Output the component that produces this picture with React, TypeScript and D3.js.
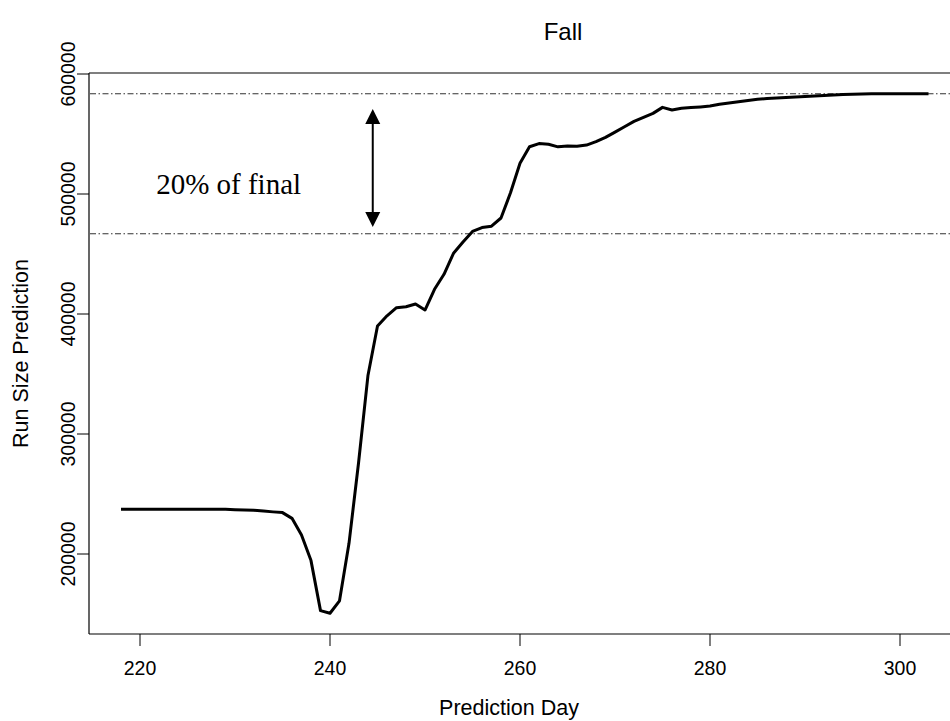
import React from "react";
import * as d3 from "d3";

// Daily run-size predictions for the fall run
const days: number[] = d3.range(218, 304);
const predictions: number[] = [
  237300, 237300, 237300, 237300, 237300, 237300, 237300, 237300, 237300, 237300,
  237300, 237200, 236900, 236700, 236400, 235800, 235100, 234500, 229700, 215800,
  194500, 152800, 150600, 161000, 208900, 275600, 349000, 390000, 398500, 405300,
  406100, 408300, 403300, 420600, 433100, 450600, 460000, 468800, 472000, 473200,
  480000, 501000, 525600, 539400, 542000, 541400, 539300, 540000, 539700, 540800,
  543600, 547200, 551600, 556100, 560500, 563900, 567200, 572200, 570000, 571400,
  572000, 572600, 573300, 574800, 575800, 576900, 577900, 578900, 579600, 580100,
  580500, 580900, 581300, 581700, 582100, 582600, 583000, 583200, 583400, 583500,
  583600, 583600, 583600, 583600, 583600, 583600,
];

const xTicks: number[] = [220, 240, 260, 280, 300];
const yTicks: number[] = [200000, 300000, 400000, 500000, 600000];

// Annotation: band between the final prediction and 80% of it
const bandFraction = 0.8;
const arrowDay = 244.5;
const arrowFrom = 472500;
const arrowTo = 570800;
const noteDay = 221.7;
const noteValue = 500000;
const noteText = "20% of final";

const W = 950;
const H = 721;
const left = 89;
const top = 73;
const bottom = 634;

export default function App() {
  const x = d3.scaleLinear().domain([220, 300]).range([140, 900]);
  const y = d3.scaleLinear().domain([200000, 600000]).range([554, 74]);

  const line = d3
    .line<number>()
    .x((_, i) => x(days[i]))
    .y((v) => y(v));

  const finalValue = predictions[predictions.length - 1];
  const refLevels = [finalValue, finalValue * bandFraction];

  const ax = x(arrowDay);
  const aTop = y(arrowTo);
  const aBot = y(arrowFrom);
  const headH = 15;
  const headW = 7.5;

  const sans = "Liberation Sans, Arial, sans-serif";

  return (
    <svg
      width={W}
      height={H}
      viewBox={`0 0 ${W} ${H}`}
      style={{ position: "absolute", left: 0, top: 0, background: "#fff" }}
    >
      <rect x={0} y={0} width={W} height={H} fill="#fff" />

      {/* title */}
      <text x={563} y={40} textAnchor="middle" fontFamily={sans} fontSize={24} fill="#000">
        Fall
      </text>

      {/* plot frame: left, top and bottom edges */}
      <line x1={left} y1={top} x2={W} y2={top} stroke="#000" strokeWidth={1.2} />
      <line x1={left} y1={top} x2={left} y2={bottom} stroke="#000" strokeWidth={1.2} />
      <line x1={left} y1={bottom} x2={W} y2={bottom} stroke="#000" strokeWidth={1.2} />

      {/* x axis */}
      {xTicks.map((t) => (
        <g key={`xt${t}`}>
          <line x1={x(t)} y1={bottom} x2={x(t)} y2={bottom + 12} stroke="#000" strokeWidth={1} />
          <text x={x(t)} y={675} textAnchor="middle" fontFamily={sans} fontSize={19.5} fill="#000">
            {t}
          </text>
        </g>
      ))}
      <text x={509} y={715} textAnchor="middle" fontFamily={sans} fontSize={21.5} fill="#000">
        Prediction Day
      </text>

      {/* y axis */}
      {yTicks.map((t) => (
        <g key={`yt${t}`}>
          <line x1={left - 12} y1={y(t)} x2={left} y2={y(t)} stroke="#000" strokeWidth={1} />
          <text
            transform={`translate(75,${y(t)}) rotate(-90)`}
            textAnchor="middle"
            fontFamily={sans}
            fontSize={19.5}
            fill="#000"
          >
            {t}
          </text>
        </g>
      ))}
      <text
        transform={`translate(28,${(top + bottom) / 2}) rotate(-90)`}
        textAnchor="middle"
        fontFamily={sans}
        fontSize={21.5}
        fill="#000"
      >
        Run Size Prediction
      </text>

      {/* reference levels */}
      {refLevels.map((v, i) => (
        <line
          key={`ref${i}`}
          x1={left + 1}
          y1={y(v)}
          x2={W}
          y2={y(v)}
          stroke="#333"
          strokeWidth={1.1}
          strokeDasharray="6 2.5 1.5 2.5"
        />
      ))}

      {/* prediction series */}
      <path d={line(predictions) ?? ""} fill="none" stroke="#000" strokeWidth={3} strokeLinejoin="round" />

      {/* double-headed arrow */}
      <line x1={ax} y1={aTop + headH - 1} x2={ax} y2={aBot - headH + 1} stroke="#000" strokeWidth={2} />
      <polygon
        points={`${ax},${aTop} ${ax - headW},${aTop + headH} ${ax + headW},${aTop + headH}`}
        fill="#000"
      />
      <polygon
        points={`${ax},${aBot} ${ax - headW},${aBot - headH} ${ax + headW},${aBot - headH}`}
        fill="#000"
      />

      <text
        x={x(noteDay)}
        y={y(noteValue)}
        fontFamily="Liberation Serif, Times New Roman, serif"
        fontSize={29}
        fill="#000"
      >
        {noteText}
      </text>
    </svg>
  );
}
